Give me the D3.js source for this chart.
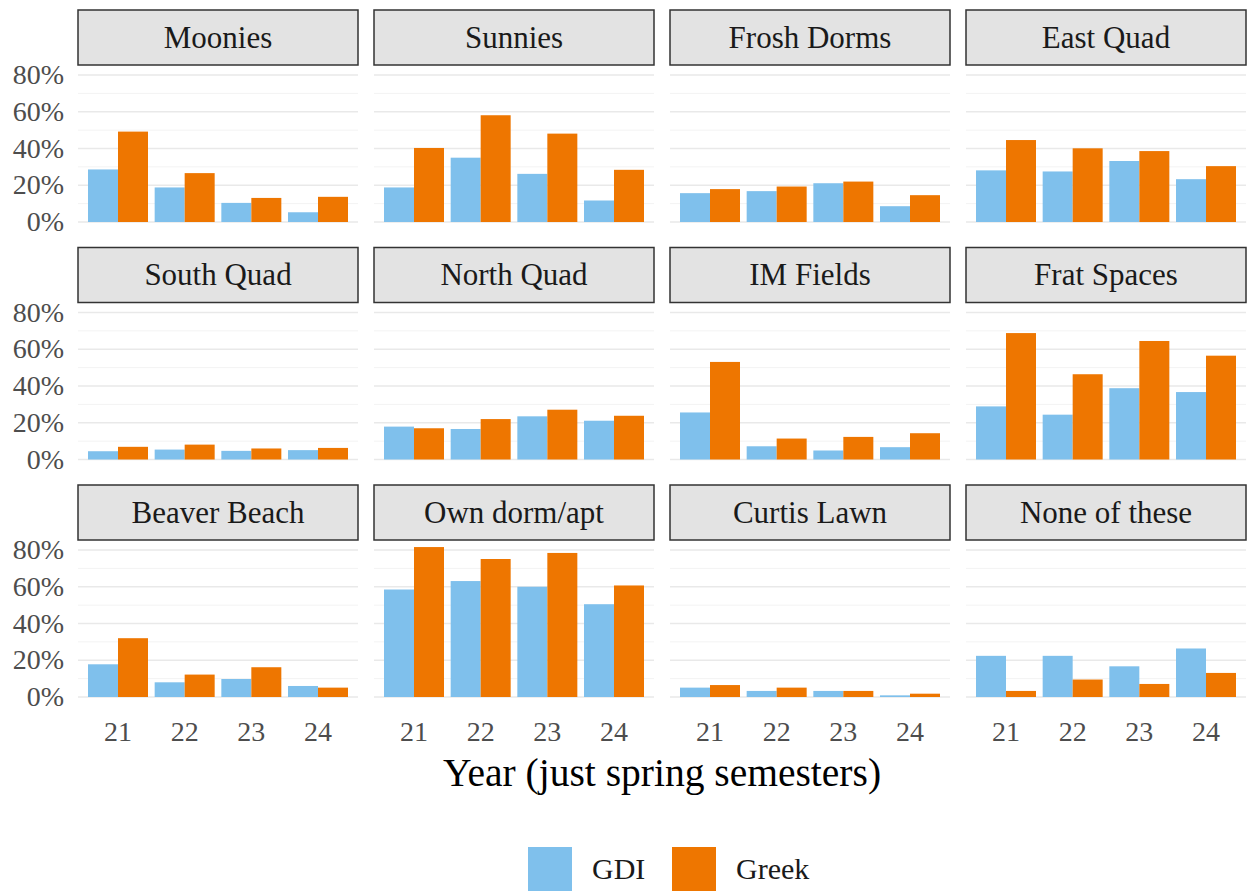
<!DOCTYPE html>
<html>
<head>
<meta charset="utf-8">
<script src="https://cdn.jsdelivr.net/npm/d3@7"></script>
<style>
  body { margin: 0; background: #fff; }
  text { font-family: "Liberation Serif", "DejaVu Serif", serif; }
</style>
</head>
<body>
<svg width="1249" height="892"></svg>
<script>
// data (shares)
const facets = ["Moonies", "Sunnies", "Frosh Dorms", "East Quad",
  "South Quad", "North Quad", "IM Fields", "Frat Spaces",
  "Beaver Beach", "Own dorm/apt", "Curtis Lawn", "None of these"];
const years = ["21", "22", "23", "24"];
const groups = ["GDI", "Greek"];
const gdi = [
  [0.286, 0.188, 0.104, 0.053],
  [0.188, 0.350, 0.262, 0.117],
  [0.157, 0.168, 0.211, 0.086],
  [0.281, 0.275, 0.332, 0.233],
  [0.045, 0.054, 0.047, 0.051],
  [0.179, 0.166, 0.235, 0.211],
  [0.256, 0.072, 0.049, 0.067],
  [0.289, 0.244, 0.388, 0.367],
  [0.178, 0.080, 0.098, 0.060],
  [0.585, 0.631, 0.600, 0.505],
  [0.051, 0.033, 0.033, 0.009],
  [0.224, 0.224, 0.167, 0.264]
];
const greek = [
  [0.492, 0.266, 0.131, 0.137],
  [0.403, 0.581, 0.481, 0.284],
  [0.179, 0.193, 0.220, 0.146],
  [0.446, 0.401, 0.386, 0.304],
  [0.069, 0.081, 0.060, 0.063],
  [0.170, 0.220, 0.271, 0.238],
  [0.531, 0.114, 0.123, 0.143],
  [0.688, 0.464, 0.645, 0.565],
  [0.320, 0.122, 0.162, 0.051],
  [0.816, 0.751, 0.784, 0.607],
  [0.065, 0.051, 0.033, 0.018],
  [0.033, 0.095, 0.071, 0.131]
];
const yTicks = [0, 0.2, 0.4, 0.6, 0.8];
const yMinor = [0.1, 0.3, 0.5, 0.7];
const colors = { GDI: "#7fc0ec", Greek: "#ee7600" };

const svg = d3.select("svg");
const ncol = 4;
const panelW = 280;
const colStep = 296;
const rowStep = 237.5;
const left = 78;
const stripTop = 10;
const stripH = 55;

const y = d3.scaleLinear().domain([0, 0.8]).range([222, 75]);
const x = d3.scaleBand().domain(years).range([0, panelW])
  .paddingInner(0.1).paddingOuter(0.15);
const xg = d3.scaleBand().domain(groups).range([0, x.bandwidth()]);
const pct = d3.format(".0%");

facets.forEach((name, i) => {
  const c = i % ncol;
  const r = Math.floor(i / ncol);
  const g = svg.append("g")
    .attr("transform", `translate(${left + c * colStep},${r * rowStep})`);

  // grid
  g.selectAll(".minor").data(yMinor).join("line")
    .attr("x1", 0).attr("x2", panelW)
    .attr("y1", d => y(d)).attr("y2", d => y(d))
    .attr("stroke", "#f3f3f3").attr("stroke-width", 1);
  g.selectAll(".major").data(yTicks).join("line")
    .attr("x1", 0).attr("x2", panelW)
    .attr("y1", d => y(d)).attr("y2", d => y(d))
    .attr("stroke", "#e9e9e9").attr("stroke-width", 1.6);

  // strip
  g.append("rect")
    .attr("x", 0).attr("y", stripTop)
    .attr("width", panelW).attr("height", stripH)
    .attr("fill", "#e3e3e3").attr("stroke", "#333").attr("stroke-width", 1.5);
  g.append("text")
    .attr("x", panelW / 2).attr("y", stripTop + stripH / 2 + 10)
    .attr("text-anchor", "middle")
    .attr("font-size", 31).attr("fill", "#1a1a1a")
    .text(name);

  // bars
  const rows = years.map((yr, k) => ({ yr, GDI: gdi[i][k], Greek: greek[i][k] }));
  const yg = g.selectAll(".yr").data(rows).join("g")
    .attr("transform", d => `translate(${x(d.yr)},0)`);
  yg.selectAll("rect").data(d => groups.map(k => ({ k, v: d[k] }))).join("rect")
    .attr("x", d => xg(d.k))
    .attr("width", xg.bandwidth())
    .attr("y", d => y(d.v))
    .attr("height", d => y(0) - y(d.v))
    .attr("fill", d => colors[d.k]);

  // y labels on first column
  if (c === 0) {
    g.selectAll(".yl").data(yTicks).join("text")
      .attr("x", -14).attr("y", d => y(d) + 9)
      .attr("text-anchor", "end")
      .attr("font-size", 28).attr("fill", "#4d4d4d")
      .text(d => pct(d));
  }
  // x labels on bottom row
  if (r === 2) {
    g.selectAll(".xl").data(years).join("text")
      .attr("x", d => x(d) + x.bandwidth() / 2).attr("y", 266)
      .attr("text-anchor", "middle")
      .attr("font-size", 28).attr("fill", "#4d4d4d")
      .text(d => d);
  }
});

// axis title
svg.append("text")
  .attr("x", left + (colStep * 3 + panelW) / 2).attr("y", 786)
  .attr("text-anchor", "middle")
  .attr("font-size", 39.5).attr("fill", "#000")
  .text("Year (just spring semesters)");

// legend
const legend = svg.append("g").attr("transform", "translate(528,847)");
const li = legend.selectAll("g").data(groups).join("g")
  .attr("transform", (d, k) => `translate(${k * 144},0)`);
li.append("rect").attr("width", 44).attr("height", 44)
  .attr("fill", d => colors[d]);
li.append("text").attr("x", 64).attr("y", 32)
  .attr("font-size", 30).attr("fill", "#1a1a1a")
  .text(d => d);
</script>
</body>
</html>
